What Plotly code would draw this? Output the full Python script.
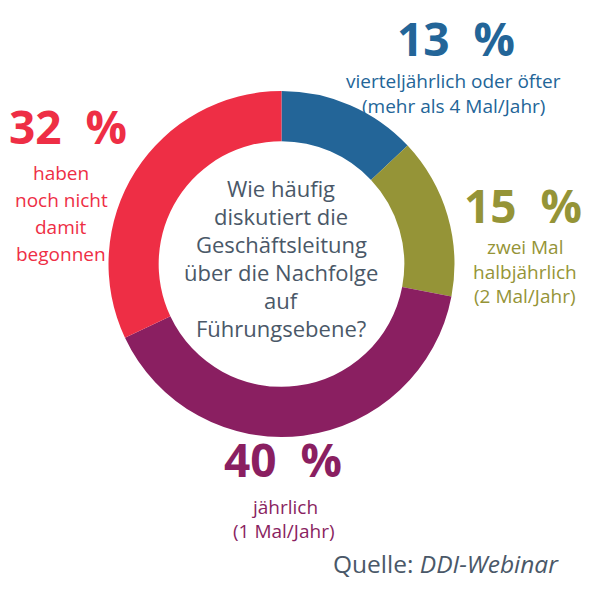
import plotly.graph_objects as go

categories = ["vierteljährlich oder öfter", "halbjährlich", "jährlich", "noch nicht begonnen"]
values = [13, 15, 40, 32]
colors = ["#236598", "#959437", "#8A1F61", "#EE2E45"]
big_labels = ["13\u00a0\u00a0%", "15\u00a0\u00a0%", "40\u00a0\u00a0%", "32\u00a0\u00a0%"]
sub_labels = [
    ["vierteljährlich oder öfter", "(mehr als 4 Mal/Jahr)"],
    ["zwei Mal", "halbjährlich", "(2 Mal/Jahr)"],
    ["jährlich", "(1 Mal/Jahr)"],
    ["haben", "noch nicht", "damit", "begonnen"],
]
question = ["Wie häufig", "diskutiert die", "Geschäftsleitung", "über die Nachfolge", "auf", "Führungsebene?"]

FONT = "Open Sans"
W = H = 592
OFF = 8  # page body margin


def px(x):
    return (x - OFF) / W


def py(y):
    return 1 - (y - OFF) / H


# donut geometry (screen pixels)
cx, cy, half = 281.5, 264, 173

fig = go.Figure(go.Pie(
    labels=categories, values=values, sort=False, direction="clockwise", rotation=0,
    hole=0.71, textinfo="none", hoverinfo="label+percent",
    marker=dict(colors=colors, line=dict(width=0)),
    domain=dict(x=[px(cx - half), px(cx + half)], y=[py(cy + half), py(cy - half)]),
))


def ann(text, x, y, size, color, bold=False, xanchor="center"):
    t = f"<b>{text}</b>" if bold else text
    fig.add_annotation(text=t, x=px(x), y=py(y), xref="paper", yref="paper",
                       xanchor=xanchor, yanchor="middle", showarrow=False,
                       font=dict(family=FONT, size=size, color=color))


def block(lines, x, yc, size, step, color):
    y0 = yc - step * (len(lines) - 1) / 2
    for j, line in enumerate(lines):
        ann(line, x, y0 + j * step, size, color)


BIG = 46
SMALL = 19
big_pos = [(456, 38), (523, 205), (283, 459), (68, 126)]
sub_pos = [(453, 93.75, 24.5), (525, 271.5, 24.5), (284, 518.75, 24.5), (61, 213.5, 27)]

for i in range(4):
    ann(big_labels[i], big_pos[i][0], big_pos[i][1], BIG, colors[i], bold=True)
    x0, yc, step = sub_pos[i]
    block(sub_labels[i], x0, yc, SMALL, step, colors[i])

block(question, 281, 258.25, 22, 28, "#4A5868")

ann("Quelle: <i>DDI-Webinar</i>", 561, 563, 24.5, "#4A5868", xanchor="right")

fig.update_layout(width=W, height=H, margin=dict(l=0, r=0, t=0, b=0),
                  showlegend=False, paper_bgcolor="white", plot_bgcolor="white")
fig.write_html("out.html")
